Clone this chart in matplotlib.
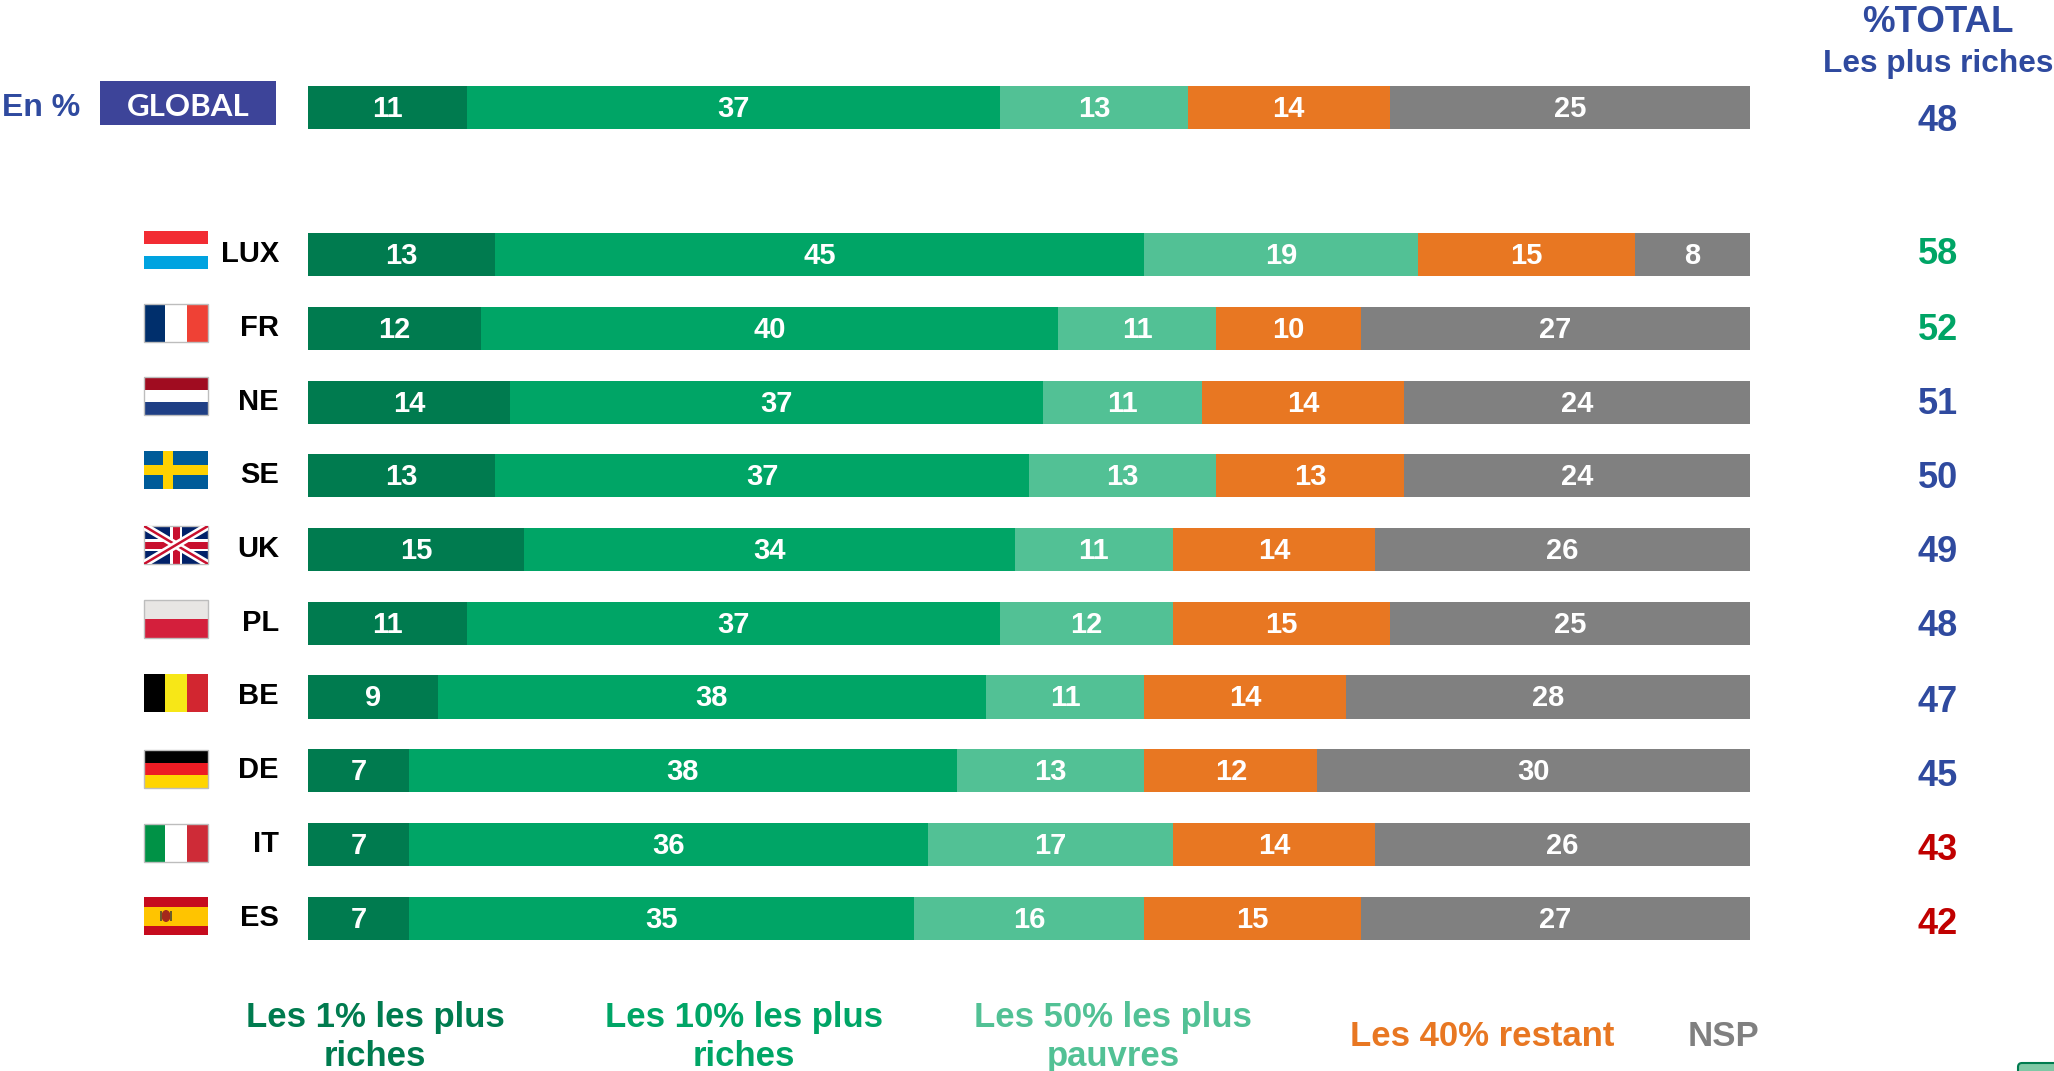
import matplotlib
matplotlib.use('Agg')
import matplotlib.pyplot as plt
from matplotlib.patches import Rectangle, FancyBboxPatch, Ellipse

plt.rcParams['font.family'] = ['Liberation Sans', 'DejaVu Sans']

W, H = 2054, 1071

# Data
countries = ['GLOBAL', 'LUX', 'FR', 'NE', 'SE', 'UK', 'PL', 'BE', 'DE', 'IT', 'ES']
rows = [0, 2, 3, 4, 5, 6, 7, 8, 9, 10, 11]
top1 = [11, 13, 12, 14, 13, 15, 11, 9, 7, 7, 7]
top10 = [37, 45, 40, 37, 37, 34, 37, 38, 38, 36, 35]
bottom50 = [13, 19, 11, 11, 13, 11, 12, 11, 13, 17, 16]
rest40 = [14, 15, 10, 14, 13, 14, 15, 14, 12, 14, 15]
nsp = [25, 8, 27, 24, 24, 26, 25, 28, 30, 26, 27]
totals = [48, 58, 52, 51, 50, 49, 48, 47, 45, 43, 42]

series = [top1, top10, bottom50, rest40, nsp]
colors = ['#007B4F', '#00A566', '#52C195', '#E87722', '#808080']
legend_labels = ['Les 1% les plus\nriches', 'Les 10% les plus\nriches',
                 'Les 50% les plus\npauvres', 'Les 40% restant', 'NSP']
legend_x = [375, 744, 1113, 1482, 1724]
BLUE = '#2F4A9F'
GREEN = '#00A566'
RED = '#C00000'
total_colors = [BLUE, GREEN, GREEN, BLUE, BLUE, BLUE, BLUE, BLUE, BLUE, RED, RED]
total_y = [121.5, 255, 330, 404.5, 479, 552.5, 627, 702, 776.5, 850, 924.5]

fig = plt.figure(figsize=(W / 100, H / 100), dpi=100, facecolor='white')

# overlay in pixel coordinates for flags and labels
px = fig.add_axes([0, 0, 1, 1])
px.set_xlim(0, W)
px.set_ylim(H, 0)
px.axis('off')

# bars axis: 308..1750 px wide, row 0 centred at y=107.4, row spacing 73.7 px
BAR_L, BAR_R = 308, 1750
ROW0, ROW_H = 107.4, 73.7
ax_top = ROW0 - ROW_H
ax_bot = ROW0 + 11 * ROW_H + ROW_H
ax = fig.add_axes([BAR_L / W, 1 - ax_bot / H, (BAR_R - BAR_L) / W, (ax_bot - ax_top) / H])
ax.patch.set_alpha(0)
ax.set_xlim(0, 100)
ax.set_ylim(12, -1)
ax.axis('off')

left = [0] * len(rows)
for values, color in zip(series, colors):
    ax.barh(rows, values, left=left, height=0.585, color=color, linewidth=0)
    for r, v, l in zip(rows, values, left):
        ax.text(l + v / 2, r + 0.02, str(v), color='white', fontsize=21, fontweight='bold',
                ha='center', va='center')
    left = [a + b for a, b in zip(left, values)]


def y_of(row):
    return ROW0 + row * ROW_H


# right column
for yy, t, c in zip(total_y, totals, total_colors):
    px.text(1938, yy, str(t), color=c, fontsize=26, fontweight='bold', ha='center', va='center')
px.text(1938, 23, '%TOTAL', color=BLUE, fontsize=26.5, fontweight='bold', ha='center', va='center')
px.text(1938, 64, 'Les plus riches', color=BLUE, fontsize=22.8, fontweight='bold', ha='center', va='center')

# global header
px.text(41, 108, 'En %', color=BLUE, fontsize=23, fontweight='bold', ha='center', va='center')
px.add_patch(Rectangle((100, 81), 176, 44, color='#3D4499', lw=0))
px.text(188, 107, 'GLOBAL', color='white', fontsize=22.5, family='Lato', fontweight='bold',
        ha='center', va='center')

# country codes
for r, name in zip(rows[1:], countries[1:]):
    px.text(279, y_of(r) - 0.5, name, color='black', fontsize=21, fontweight='bold', ha='right', va='center')

# legend
for label, x, c in zip(legend_labels, legend_x, colors):
    px.text(x, 1037, label, color=c, fontsize=25, fontweight='bold', ha='center', va='center',
            linespacing=1.2)


# flags
def outline(y):
    px.add_patch(Rectangle((144, y - 19), 64, 38, fill=False, edgecolor='#BDBDBD', lw=1))


def hstripes(y, cols):
    h = 38 / len(cols)
    for i, c in enumerate(cols):
        px.add_patch(Rectangle((144, y - 19 + i * h), 64, h, color=c, lw=0))


def vstripes(y, cols):
    w = 64 / len(cols)
    for i, c in enumerate(cols):
        px.add_patch(Rectangle((144 + i * w, y - 19), w, 38, color=c, lw=0))


flag_y = [250, 323, 396, 470, 545, 619, 693, 769, 843, 916]
hstripes(flag_y[0], ['#F22C33', '#FFFFFF', '#00A3E0'])
vstripes(flag_y[1], ['#002F6C', '#FFFFFF', '#EF4135'])
outline(flag_y[1])
hstripes(flag_y[2], ['#A00C20', '#FFFFFF', '#1F3F85'])
outline(flag_y[2])

# Sweden
y = flag_y[3]
px.add_patch(Rectangle((144, y - 19), 64, 38, color='#005B99', lw=0))
px.add_patch(Rectangle((163, y - 19), 10, 38, color='#FFD100', lw=0))
px.add_patch(Rectangle((144, y - 5), 64, 10, color='#FFD100', lw=0))

# UK
y = flag_y[4]
uk_box = Rectangle((144, y - 19), 64, 38, color='#012169', lw=0)
px.add_patch(uk_box)
for ys in ([y - 19, y + 19], [y + 19, y - 19]):
    line, = px.plot([144, 208], ys, color='white', lw=5.5, solid_capstyle='butt')
    line.set_clip_path(uk_box)
    line, = px.plot([144, 208], ys, color='#C8102E', lw=1.8, solid_capstyle='butt')
    line.set_clip_path(uk_box)
px.add_patch(Rectangle((170, y - 19), 12, 38, color='white', lw=0))
px.add_patch(Rectangle((144, y - 6), 64, 12, color='white', lw=0))
px.add_patch(Rectangle((172.5, y - 19), 7, 38, color='#C8102E', lw=0))
px.add_patch(Rectangle((144, y - 3.5), 64, 7, color='#C8102E', lw=0))
outline(y)

hstripes(flag_y[5], ['#E8E6E4', '#D41F3C'])
outline(flag_y[5])
vstripes(flag_y[6], ['#000000', '#F7E717', '#D22630'])
hstripes(flag_y[7], ['#000000', '#ED1C24', '#FFD500'])
outline(flag_y[7])
vstripes(flag_y[8], ['#009246', '#FFFFFF', '#CE2B37'])
outline(flag_y[8])

# Spain
y = flag_y[9]
px.add_patch(Rectangle((144, y - 19), 64, 38, color='#C60B1E', lw=0))
px.add_patch(Rectangle((144, y - 9.5), 64, 19, color='#FFC400', lw=0))
px.add_patch(Ellipse((166, y), 9, 12, color='#A5281B', lw=0))
px.add_patch(Rectangle((160, y - 5), 2, 10, color='#6B5A2A', lw=0))
px.add_patch(Rectangle((170, y - 5), 2, 10, color='#6B5A2A', lw=0))

# corner button fragment cut by the image edge
px.add_patch(FancyBboxPatch((2018, 1063), 60, 30, boxstyle='round,pad=0,rounding_size=4',
                            facecolor='#7FC8A5', edgecolor='#007B4F', lw=1.5))

fig.savefig('out.png', dpi=100)
